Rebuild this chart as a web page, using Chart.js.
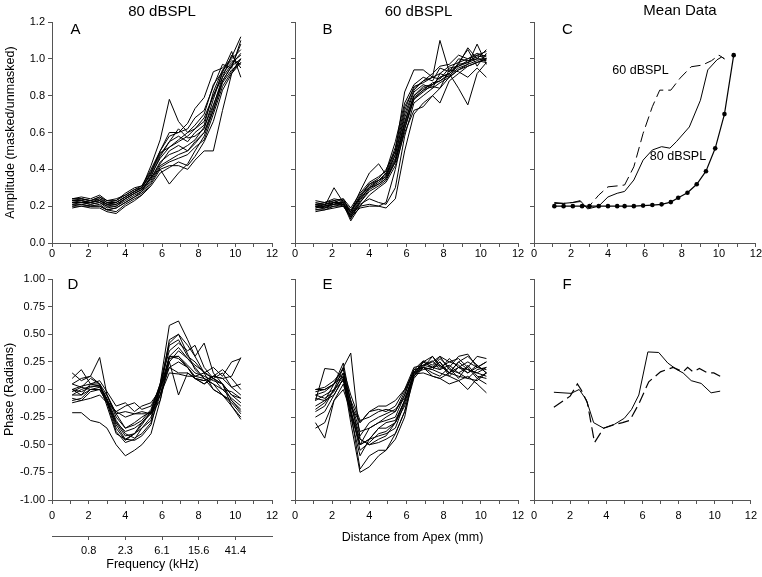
<!DOCTYPE html>
<html><head><meta charset="utf-8">
<script src="https://cdn.jsdelivr.net/npm/chart.js@4.4.0/dist/chart.umd.min.js"></script>
<style>
html,body{margin:0;padding:0;background:#fff;}
#wrap{position:relative;width:762px;height:577px;background:#fff;}
canvas{position:absolute;left:0;top:0;}
</style></head><body><div id="wrap">
<canvas id="cA" width="762" height="577"></canvas>
<canvas id="cB" width="762" height="577"></canvas>
<canvas id="cC" width="762" height="577"></canvas>
<canvas id="cD" width="762" height="577"></canvas>
<canvas id="cE" width="762" height="577"></canvas>
<canvas id="cF" width="762" height="577"></canvas>
</div>
<script>
// Distance from apex (mm) sampling positions of individual recordings
const distanceMm = [1.1,1.6,2.1,2.6,3.0,3.5,4.0,4.5,4.9,5.4,5.9,6.4,6.9,7.4,7.8,8.3,8.8,9.3,9.8,10.3];

// Panel A: amplitude, 80 dBSPL
const amp80Lines = [
 [0.23,0.23,0.22,0.23,0.21,0.22,0.25,0.28,0.30,0.42,0.56,0.78,0.66,0.60,0.62,0.68,0.80,0.92,0.98,1.02],
 [0.21,0.21,0.20,0.20,0.18,0.19,0.22,0.25,0.28,0.36,0.40,0.32,0.38,0.43,0.50,0.58,0.72,0.88,0.96,1.00],
 [0.24,0.24,0.23,0.25,0.22,0.23,0.26,0.29,0.30,0.38,0.50,0.58,0.60,0.65,0.73,0.79,0.93,0.95,1.00,1.05],
 [0.20,0.20,0.19,0.19,0.17,0.16,0.20,0.23,0.26,0.32,0.40,0.42,0.42,0.40,0.45,0.50,0.50,0.72,0.92,1.00],
 [0.22,0.22,0.22,0.23,0.20,0.21,0.24,0.27,0.29,0.35,0.44,0.48,0.50,0.53,0.56,0.63,0.75,0.88,0.96,1.08],
 [0.23,0.24,0.23,0.24,0.22,0.22,0.25,0.28,0.30,0.37,0.46,0.52,0.55,0.58,0.62,0.66,0.80,0.90,1.02,0.95],
 [0.21,0.22,0.21,0.22,0.19,0.20,0.23,0.26,0.28,0.34,0.42,0.45,0.48,0.50,0.54,0.60,0.72,0.87,0.94,0.98],
 [0.22,0.23,0.22,0.23,0.21,0.21,0.24,0.27,0.29,0.36,0.47,0.55,0.62,0.57,0.58,0.62,0.78,0.93,1.04,0.90],
 [0.24,0.25,0.24,0.26,0.23,0.23,0.27,0.30,0.31,0.40,0.50,0.60,0.60,0.62,0.68,0.72,0.85,0.97,0.95,1.10],
 [0.20,0.21,0.20,0.21,0.18,0.19,0.22,0.25,0.27,0.33,0.41,0.44,0.46,0.48,0.52,0.56,0.70,0.85,0.93,1.00],
 [0.22,0.22,0.21,0.22,0.20,0.20,0.24,0.27,0.29,0.35,0.43,0.50,0.53,0.50,0.55,0.60,0.74,0.90,0.97,1.03],
 [0.23,0.23,0.22,0.24,0.21,0.22,0.25,0.28,0.30,0.38,0.48,0.55,0.58,0.55,0.60,0.64,0.82,0.94,0.99,0.97],
 [0.19,0.20,0.20,0.20,0.18,0.17,0.21,0.24,0.26,0.31,0.38,0.41,0.44,0.42,0.47,0.55,0.66,0.83,0.92,0.98],
 [0.24,0.24,0.23,0.25,0.23,0.24,0.26,0.29,0.31,0.39,0.49,0.52,0.56,0.60,0.64,0.70,0.86,0.93,1.01,1.12]
];

// Panel B: amplitude, 60 dBSPL
const amp60Lines = [
 [0.22,0.21,0.23,0.21,0.17,0.26,0.32,0.35,0.40,0.50,0.82,0.94,0.94,0.90,0.92,0.96,0.98,1.00,1.02,1.04],
 [0.20,0.19,0.20,0.20,0.15,0.20,0.21,0.20,0.19,0.24,0.50,0.70,0.76,0.80,0.84,0.90,0.94,0.96,0.98,1.00],
 [0.21,0.20,0.30,0.22,0.14,0.23,0.30,0.34,0.36,0.46,0.66,0.80,0.85,0.86,0.90,0.92,0.96,0.98,1.00,0.99],
 [0.18,0.19,0.21,0.23,0.17,0.28,0.38,0.43,0.37,0.48,0.70,0.83,0.88,0.90,0.89,0.95,0.96,0.99,1.01,1.02],
 [0.20,0.21,0.22,0.24,0.16,0.25,0.31,0.34,0.37,0.50,0.72,0.85,0.87,0.90,1.10,0.93,0.97,0.98,1.02,1.00],
 [0.19,0.20,0.21,0.22,0.13,0.22,0.29,0.32,0.35,0.45,0.65,0.80,0.84,0.86,0.90,0.92,0.84,0.75,0.92,0.98],
 [0.17,0.18,0.20,0.21,0.12,0.20,0.26,0.30,0.33,0.42,0.60,0.72,0.74,0.80,0.76,0.88,0.92,0.96,0.98,1.00],
 [0.21,0.22,0.24,0.23,0.18,0.24,0.30,0.33,0.36,0.48,0.68,0.82,0.86,0.84,0.92,0.90,0.98,1.05,0.96,1.03],
 [0.20,0.20,0.22,0.20,0.15,0.21,0.24,0.22,0.21,0.30,0.58,0.76,0.80,0.84,0.87,0.90,0.94,0.97,1.08,0.97],
 [0.23,0.22,0.23,0.24,0.19,0.27,0.33,0.36,0.39,0.55,0.76,0.86,0.90,0.88,0.95,0.93,1.00,0.99,1.00,1.05],
 [0.18,0.18,0.19,0.20,0.14,0.19,0.20,0.20,0.22,0.40,0.62,0.78,0.82,0.86,0.88,0.91,0.95,0.97,0.99,0.98],
 [0.19,0.20,0.21,0.21,0.15,0.24,0.30,0.32,0.35,0.44,0.64,0.78,0.83,0.85,0.84,0.94,0.93,0.90,0.95,0.90],
 [0.21,0.21,0.22,0.22,0.17,0.25,0.32,0.34,0.38,0.52,0.74,0.84,0.88,0.92,0.96,0.97,1.02,1.00,1.03,1.01],
 [0.20,0.19,0.22,0.21,0.16,0.22,0.28,0.31,0.34,0.44,0.62,0.79,0.83,0.87,0.88,0.92,0.97,1.06,1.00,1.00]
];

// Panel C: mean data
const meanModelX = [1.1,1.6,2.1,2.6,3.0,3.5,4.0,4.5,4.9,5.4,5.9,6.4,6.9,7.4,7.8,8.3,8.8,9.3,9.8,10.3,10.8];
const meanModelY = [0.2,0.2,0.2,0.2,0.2,0.2,0.2,0.2,0.2,0.2,0.203,0.206,0.21,0.222,0.246,0.273,0.319,0.39,0.514,0.70,1.02];
const meanAmp80X = [1.1,1.6,2.1,2.5,2.9,3.5,4.0,4.5,4.9,5.4,5.9,6.4,6.9,7.35,7.7,8.4,9.0,9.4,9.9,10.15,10.3];
const meanAmp80Y = [0.215,0.215,0.22,0.23,0.185,0.2,0.25,0.27,0.28,0.342,0.45,0.505,0.523,0.515,0.55,0.63,0.775,0.94,0.995,1.01,1.0];
const meanAmp60X = [1.1,1.6,2.1,2.5,2.9,3.5,4.0,4.5,4.9,5.4,5.9,6.4,6.8,7.4,7.9,8.5,9.1,9.6,10.0,10.3];
const meanAmp60Y = [0.22,0.215,0.22,0.225,0.19,0.26,0.305,0.31,0.315,0.414,0.595,0.74,0.83,0.83,0.895,0.957,0.966,0.99,1.02,1.0];

// Panel D: phase, 80 dBSPL
const phase80Lines = [
 [0.15,0.08,0.12,0.05,-0.15,-0.40,-0.45,-0.40,-0.32,-0.20,0.05,0.58,0.62,0.45,0.30,0.15,0.10,0.05,-0.10,-0.20],
 [-0.21,-0.21,-0.28,-0.30,-0.35,-0.50,-0.60,-0.55,-0.50,-0.40,-0.10,0.30,0.30,0.20,0.12,0.10,0.05,-0.05,-0.15,-0.25],
 [0.05,0.10,0.12,0.29,-0.05,-0.25,-0.35,-0.30,-0.25,-0.20,-0.05,0.20,0.15,0.15,0.10,0.08,0.12,0.10,0.02,-0.05],
 [-0.05,0.00,0.03,0.03,-0.10,-0.35,-0.46,-0.40,-0.30,-0.22,0.00,0.45,0.50,0.40,0.30,0.42,0.15,0.05,-0.05,-0.12],
 [-0.02,0.02,0.00,0.00,-0.12,-0.20,-0.25,-0.22,-0.20,-0.22,-0.10,0.25,-0.05,0.15,0.10,0.08,0.12,0.18,0.10,0.00],
 [0.00,-0.05,0.05,0.05,-0.10,-0.20,-0.15,-0.12,-0.18,-0.15,0.02,0.20,0.25,0.20,0.10,0.05,0.12,0.10,0.12,0.29],
 [-0.10,-0.08,0.00,0.02,-0.10,-0.30,-0.42,-0.40,-0.35,-0.25,0.00,0.40,0.45,0.30,0.25,0.15,0.00,-0.05,-0.12,-0.22],
 [0.00,0.03,0.05,0.03,-0.08,-0.28,-0.40,-0.44,-0.40,-0.30,-0.05,0.30,0.38,0.28,0.20,0.10,0.05,0.00,-0.08,-0.15],
 [-0.05,-0.05,0.00,0.00,-0.05,-0.22,-0.35,-0.32,-0.28,-0.18,0.05,0.35,0.42,0.35,0.40,0.20,0.10,0.00,-0.02,-0.08],
 [0.05,0.02,0.10,0.05,-0.05,-0.22,-0.20,-0.22,-0.22,-0.22,-0.05,0.15,0.14,0.12,0.12,0.15,0.20,0.12,0.25,0.28],
 [-0.08,-0.10,-0.02,0.00,-0.12,-0.38,-0.48,-0.45,-0.35,-0.28,0.05,0.42,0.50,0.32,0.18,0.10,0.00,-0.05,-0.10,-0.18],
 [0.00,-0.02,0.02,0.04,-0.10,-0.30,-0.38,-0.35,-0.30,-0.20,0.02,0.28,0.30,0.22,0.15,0.12,0.08,0.05,-0.05,-0.08],
 [-0.12,-0.10,-0.08,-0.05,-0.12,-0.32,-0.45,-0.46,-0.42,-0.32,0.00,0.30,0.28,0.20,0.10,0.05,0.10,0.05,-0.15,-0.27],
 [0.10,0.18,0.05,0.08,-0.02,-0.15,-0.12,-0.20,-0.15,-0.12,0.00,0.25,0.35,0.28,0.22,0.16,0.10,0.15,0.02,0.05]
];

// Panel E: phase, 60 dBSPL
const phase60Lines = [
 [-0.02,0.00,0.05,0.20,-0.20,-0.50,-0.45,-0.35,-0.35,-0.30,-0.10,0.15,0.25,0.20,0.25,0.15,0.20,0.18,0.15,0.12],
 [-0.10,0.19,0.18,0.10,-0.15,-0.30,-0.20,-0.15,-0.15,-0.10,0.00,0.15,0.25,0.30,0.20,0.25,0.22,0.15,0.20,0.18],
 [-0.30,-0.44,-0.10,0.05,-0.20,-0.72,-0.60,-0.55,-0.55,-0.40,-0.20,0.10,0.20,0.18,0.15,0.12,0.08,0.12,0.05,-0.03],
 [-0.20,-0.15,0.00,0.20,0.33,-0.45,-0.50,-0.45,-0.42,-0.30,-0.15,0.12,0.22,0.20,0.18,0.22,0.15,0.20,0.10,0.15],
 [0.00,0.00,0.05,0.12,-0.10,-0.50,-0.35,-0.30,-0.28,-0.25,-0.05,0.18,0.20,0.30,0.22,0.15,0.25,0.18,0.15,0.20],
 [-0.15,-0.10,-0.05,0.10,-0.25,-0.60,-0.45,-0.42,-0.40,-0.35,-0.12,0.12,0.20,0.15,0.12,0.20,0.10,0.22,0.12,0.10],
 [-0.05,-0.08,-0.02,0.15,-0.10,-0.30,-0.20,-0.18,-0.20,-0.15,0.00,0.20,0.22,0.25,0.30,0.18,0.15,0.10,0.18,0.20],
 [-0.25,-0.20,-0.05,0.10,-0.30,-0.75,-0.70,-0.60,-0.55,-0.45,-0.25,0.15,0.18,0.20,0.22,0.15,0.25,0.30,0.22,0.15],
 [-0.35,-0.30,-0.10,0.00,-0.20,-0.45,-0.50,-0.48,-0.45,-0.40,-0.20,0.15,0.20,0.12,0.10,0.05,0.08,0.00,0.10,0.05],
 [-0.10,-0.05,0.00,0.08,-0.15,-0.42,-0.30,-0.25,-0.22,-0.18,-0.08,0.12,0.25,0.20,0.28,0.20,0.30,0.32,0.20,0.25],
 [-0.05,-0.02,0.05,0.15,-0.18,-0.55,-0.48,-0.40,-0.38,-0.30,-0.10,0.16,0.22,0.26,0.18,0.28,0.20,0.15,0.22,0.15],
 [0.00,0.02,0.08,0.18,-0.05,-0.28,-0.25,-0.20,-0.18,-0.20,-0.02,0.18,0.20,0.18,0.25,0.12,0.20,0.25,0.20,0.25],
 [-0.18,-0.12,0.00,0.12,-0.22,-0.50,-0.45,-0.35,-0.30,-0.28,-0.10,0.14,0.15,0.12,0.10,0.15,0.12,0.10,0.08,0.15],
 [-0.08,-0.10,0.05,0.24,-0.12,-0.38,-0.35,-0.30,-0.25,-0.20,-0.05,0.18,0.26,0.22,0.30,0.25,0.28,0.20,0.30,0.28]
];

// Panel F: mean phase
const meanPhase80X = [1.1,2.05,2.5,2.9,3.3,3.85,4.45,5.0,5.4,5.8,6.3,6.9,7.4,7.9,8.25,8.7,9.25,9.8,10.3];
const meanPhase80Y = [-0.025,-0.035,0.0,-0.095,-0.30,-0.35,-0.315,-0.26,-0.18,-0.05,0.34,0.335,0.24,0.18,0.15,0.08,0.055,-0.03,-0.015];
const meanPhase60X = [1.1,2.0,2.4,2.6,2.95,3.35,3.85,4.4,4.9,5.3,5.8,6.35,7.0,7.7,8.25,8.5,8.8,9.15,9.6,9.95,10.3];
const meanPhase60Y = [-0.16,-0.06,0.05,0.0,-0.12,-0.48,-0.35,-0.32,-0.30,-0.28,-0.13,0.07,0.16,0.20,0.16,0.20,0.16,0.19,0.15,0.15,0.12];

// Frequency axis
const freqTickPos = [2,4,6,8,10];
const freqLabels = ['0.8','2.3','6.1','15.6','41.4'];

const FONT = "'Liberation Sans', Arial, Helvetica, sans-serif";
const AXIS = '#555';

function pts(xs, ys){ return xs.map((x,i)=>({x:x, y:ys[i]})); }

function textPlugin(items){
  return {id:'txt', afterDraw(chart){
    const ctx = chart.ctx;
    items.forEach(t=>{
      ctx.save();
      ctx.font = t.font; ctx.fillStyle = '#000';
      ctx.textAlign = 'center'; ctx.textBaseline = 'middle';
      ctx.translate(t.x, t.y);
      if (t.rot) ctx.rotate(t.rot);
      ctx.fillText(t.text, 0, 0);
      ctx.restore();
    });
  }};
}

function makePanel(id, c){
  const scales = {
    x: {type:'linear', min:0, max:12, position:'bottom', weight:0,
      border:{display:true, color:AXIS, width:1},
      grid:{display:true, drawOnChartArea:false, drawTicks:true, tickLength:4, color:AXIS},
      ticks:{stepSize:1, autoSkip:false, maxRotation:0, padding:c.xPad, color:'#000',
        font:{family:FONT, size:11}, callback:(v)=> (Math.round(v)%2===0 ? String(v) : '')},
      afterFit:(s)=>{ s.height = c.xH; }
    },
    y: {type:'linear', min:c.yMin, max:c.yMax, position:'left',
      border:{display:true, color:AXIS, width:1},
      grid:{display:true, drawOnChartArea:false, drawTicks:true, tickLength:4, color:AXIS},
      ticks:{stepSize:c.yStep, autoSkip:false, padding:3, display:c.yLabels, color:'#000',
        font:{family:FONT, size:11}, callback:(v)=> v.toFixed(c.yDec)},
      afterFit:(s)=>{ s.width = c.yW; }
    }
  };
  if (c.freq){
    scales.xf = {type:'linear', min:0, max:12, position:'bottom', weight:1,
      border:{display:true, color:AXIS, width:1},
      grid:{display:true, drawOnChartArea:false, drawTicks:true, tickLength:4, color:AXIS},
      afterBuildTicks:(s)=>{ s.ticks = freqTickPos.map(v=>({value:v})); },
      ticks:{autoSkip:false, maxRotation:0, padding:4, color:'#000',
        font:{family:FONT, size:11}, callback:(v,i)=> freqLabels[i]},
      afterFit:(s)=>{ s.height = c.freqH; }
    };
  }
  new Chart(document.getElementById(id), {
    type:'line',
    data:{datasets:c.datasets.map(d=>Object.assign({xAxisID:'x', yAxisID:'y', borderColor:'#000',
      borderWidth:1, pointRadius:0, tension:0, fill:false}, d))},
    options:{
      responsive:false, animation:false, devicePixelRatio:1,
      layout:{padding:{left:c.padL, right:c.padR, top:c.padT, bottom:c.padB}},
      plugins:{legend:{display:false}, tooltip:{enabled:false}, title:{display:false}},
      scales:scales
    },
    plugins:[textPlugin(c.texts)]
  });
}

function bundle(lines){ return lines.map(l=>({data:pts(distanceMm, l)})); }

const TITLE = '15px ' + FONT, LET = '15px ' + FONT, AX = '12.5px ' + FONT;

makePanel('cA', {padL:0, yW:52, padR:490, padT:22, xH:19, padB:315, xPad:0,
  yMin:0, yMax:1.2, yStep:0.2, yDec:1, yLabels:true,
  datasets:bundle(amp80Lines),
  texts:[{text:'80 dBSPL', x:162, y:12, font:TITLE},{text:'A', x:75.5, y:30, font:LET},
    {text:'Amplitude (masked/unmasked)', x:11, y:132.5, font:AX, rot:-Math.PI/2}]});

makePanel('cB', {padL:285, yW:10, padR:244, padT:22, xH:19, padB:315, xPad:0,
  yMin:0, yMax:1.2, yStep:0.2, yDec:1, yLabels:false,
  datasets:bundle(amp60Lines),
  texts:[{text:'60 dBSPL', x:418.5, y:12, font:TITLE},{text:'B', x:327.5, y:30, font:LET}]});

makePanel('cC', {padL:524, yW:10, padR:6, padT:22, xH:19, padB:315, xPad:0,
  yMin:0, yMax:1.2, yStep:0.2, yDec:1, yLabels:false,
  datasets:[
    {data:pts(meanAmp60X, meanAmp60Y), borderDash:[11,5]},
    {data:pts(meanAmp80X, meanAmp80Y)},
    {data:pts(meanModelX, meanModelY), pointRadius:2.3, pointBackgroundColor:'#000', pointBorderWidth:0, borderWidth:1.2}
  ],
  texts:[{text:'Mean Data', x:680, y:10.5, font:TITLE},{text:'C', x:567.5, y:30, font:LET},
    {text:'60 dBSPL', x:640.5, y:71, font:AX},{text:'80 dBSPL', x:678, y:157, font:AX}]});

makePanel('cD', {padL:0, yW:52, padR:490, padT:279, xH:36, padB:0, xPad:5, freq:true, freqH:41,
  yMin:-1, yMax:1, yStep:0.25, yDec:2, yLabels:true,
  datasets:bundle(phase80Lines),
  texts:[{text:'D', x:73, y:285, font:LET},
    {text:'Phase (Radians)', x:10, y:389.5, font:AX, rot:-Math.PI/2},
    {text:'Frequency (kHz)', x:152.5, y:565, font:AX}]});

makePanel('cE', {padL:285, yW:10, padR:244, padT:279, xH:20, padB:57, xPad:5,
  yMin:-1, yMax:1, yStep:0.25, yDec:2, yLabels:false,
  datasets:bundle(phase60Lines),
  texts:[{text:'E', x:327.5, y:285, font:LET},
    {text:'Distance from Apex (mm)', x:412.5, y:537.5, font:AX}]});

makePanel('cF', {padL:524, yW:10, padR:6, padT:279, xH:20, padB:57, xPad:5,
  yMin:-1, yMax:1, yStep:0.25, yDec:2, yLabels:false,
  datasets:[
    {data:pts(meanPhase60X, meanPhase60Y), borderDash:[11,5], borderWidth:1.2},
    {data:pts(meanPhase80X, meanPhase80Y)}
  ],
  texts:[{text:'F', x:567, y:285, font:LET}]});
</script>
</body></html>
